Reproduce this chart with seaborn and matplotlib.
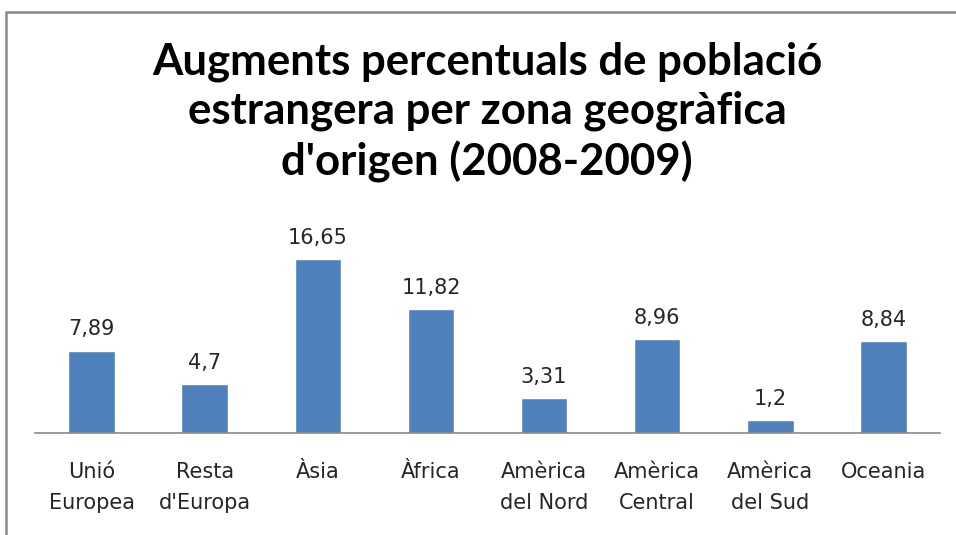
import matplotlib
matplotlib.use("Agg")
import matplotlib.pyplot as plt
import seaborn as sns
import pandas as pd
from matplotlib.patches import Rectangle

# dades del gràfic
zones = ["Unió\nEuropea", "Resta\nd'Europa", "Àsia", "Àfrica", "Amèrica\ndel Nord",
         "Amèrica\nCentral", "Amèrica\ndel Sud", "Oceania"]
augments = [7.89, 4.7, 16.65, 11.82, 3.31, 8.96, 1.2, 8.84]
etiquetes = ["7,89", "4,7", "16,65", "11,82", "3,31", "8,96", "1,2", "8,84"]

titol = "Augments percentuals de població\nestrangera per zona geogràfica\nd'origen (2008-2009)"

sns.set_style("white")
plt.rcParams['font.family'] = ['DejaVu Sans']

df = pd.DataFrame({"zona": zones, "valor": augments})

fig = plt.figure(figsize=(9.56, 5.35), dpi=100)
W, H = 956, 535
# marc del gràfic
fig.patches.append(Rectangle((6 / W, -0.1), 1.2, (H - 12) / H + 0.1, transform=fig.transFigure,
                             fill=False, edgecolor="#898989", linewidth=1.8))

ax = fig.add_axes([35 / W, (H - 433) / H, (940 - 35) / W, (433 - 200) / H])
sns.barplot(data=df, x="zona", y="valor", color="#4F81BD", saturation=1,
            width=0.41, ax=ax)
ax.set_ylim(0, 22.3)
ax.set_xlim(-0.5, len(zones) - 0.5)

for i, (v, t) in enumerate(zip(augments, etiquetes)):
    ax.annotate(t, (i, v), xytext=(0, 8), textcoords="offset points",
                ha="center", va="bottom", fontsize=15, color="#262626")

for s in ["top", "right", "left"]:
    ax.spines[s].set_visible(False)
ax.spines["bottom"].set_color("#898989")
ax.spines["bottom"].set_linewidth(1.2)
ax.set_yticks([])
ax.set_xlabel("")
ax.set_ylabel("")
ax.tick_params(axis="x", length=0, pad=21, labelsize=15, labelcolor="#262626")
for lab in ax.get_xticklabels():
    lab.set_linespacing(1.65)

fig.text(487 / W, 1 - 112 / H, titol, ha="center", va="center", fontsize=31.5,
         fontweight="bold", family=["Lato", "DejaVu Sans"], linespacing=1.27,
         color="black")

fig.savefig("out.png", dpi=100)
